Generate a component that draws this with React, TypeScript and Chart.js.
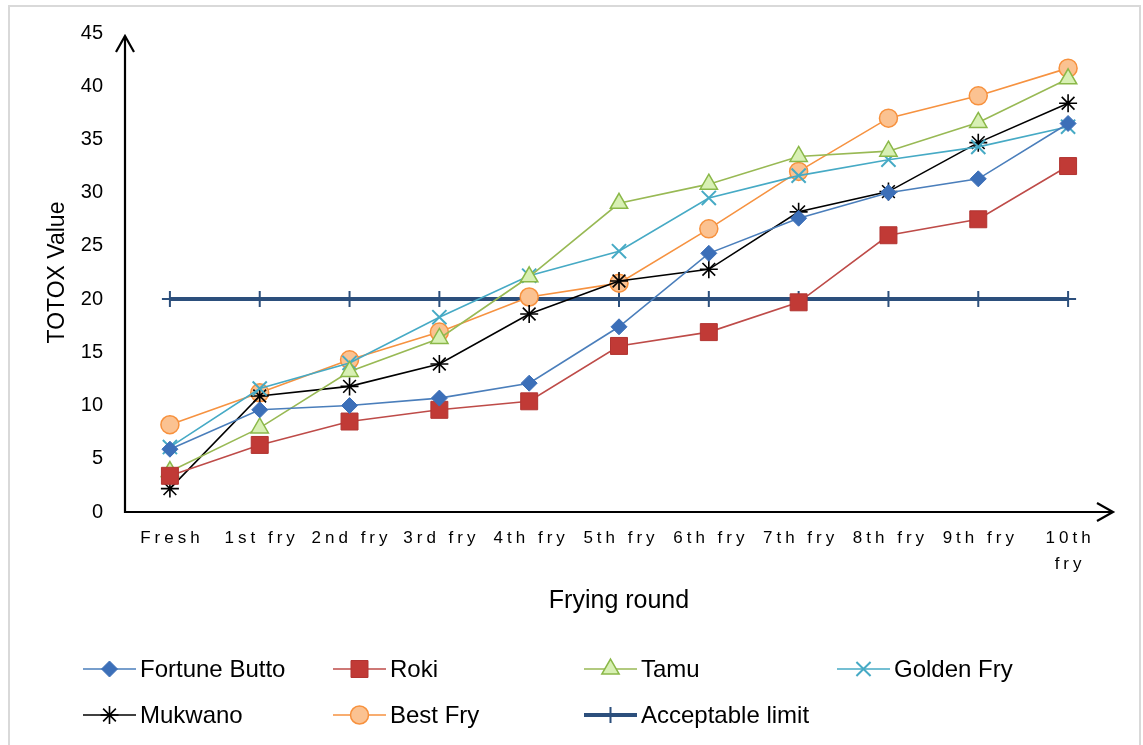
import { useEffect, useRef } from 'react';
import { Chart, registerables } from 'chart.js';
import { drawPoint } from 'chart.js/helpers';

Chart.register(...registerables);

const categories: (string | string[])[] = [
  'Fresh', '1st fry', '2nd fry', '3rd fry', '4th fry', '5th fry',
  '6th fry', '7th fry', '8th fry', '9th fry', ['10th', 'fry'],
];

const fortuneButto = [5.9, 9.6, 10.0, 10.7, 12.1, 17.4, 24.3, 27.6, 30.0, 31.3, 36.5];
const roki = [3.4, 6.3, 8.5, 9.6, 10.4, 15.6, 16.9, 19.7, 26.0, 27.5, 32.5];
const tamu = [3.8, 7.9, 13.2, 16.3, 22.1, 29.0, 30.8, 33.4, 33.9, 36.6, 40.7];
const goldenFry = [6.1, 11.6, 14.0, 18.3, 22.2, 24.5, 29.5, 31.6, 33.1, 34.3, 36.2];
const mukwano = [2.2, 10.9, 11.8, 13.9, 18.6, 21.7, 22.8, 28.2, 30.1, 34.7, 38.4];
const bestFry = [8.2, 11.2, 14.3, 16.9, 20.2, 21.5, 26.6, 32.0, 37.0, 39.1, 41.7];
const acceptableLimit = [20, 20, 20, 20, 20, 20, 20, 20, 20, 20, 20];

const yMin = 0;
const yMax = 45;
const yStep = 5;

const FONT = 'Arial, "Liberation Sans", sans-serif';

const axesPlugin = {
  id: 'arrowAxes',
  beforeDatasetsDraw(chart: any) {
    const { ctx, chartArea } = chart;
    const { left, right, bottom, top } = chartArea;
    const tipY = top + 3;
    ctx.save();
    ctx.strokeStyle = '#000';
    ctx.lineWidth = 2.2;
    ctx.lineCap = 'butt';
    ctx.beginPath();
    ctx.moveTo(left, bottom + 1);
    ctx.lineTo(left, tipY);
    ctx.moveTo(left - 1, bottom);
    ctx.lineTo(right, bottom);
    ctx.stroke();
    ctx.beginPath();
    ctx.moveTo(left - 9, tipY + 16);
    ctx.lineTo(left, tipY);
    ctx.lineTo(left + 9, tipY + 16);
    ctx.moveTo(right - 16, bottom - 9);
    ctx.lineTo(right, bottom);
    ctx.lineTo(right - 16, bottom + 9);
    ctx.stroke();
    ctx.restore();
  },
};

const letterSpacingPlugin = {
  id: 'xLetterSpacing',
  afterUpdate(chart: any) {
    const s: any = chart.scales.x;
    if (s && !s.__ls) {
      const orig = s.drawLabels.bind(s);
      s.drawLabels = (area: any) => {
        const c: any = chart.ctx;
        const prev = c.letterSpacing;
        c.letterSpacing = '4px';
        c.save();
        c.translate(2, 1);
        orig(area);
        c.restore();
        c.letterSpacing = prev;
      };
      s.__ls = true;
    }
  },
};

const legendPlugin = {
  id: 'gridLegend',
  afterDraw(chart: any) {
    const { ctx } = chart;
    const cols = [73, 323, 574, 827];
    const rows = [662, 708];
    chart.data.datasets.forEach((ds: any, i: number) => {
      const x = cols[i % 4];
      const y = rows[Math.floor(i / 4)];
      ctx.save();
      ctx.strokeStyle = ds.borderColor;
      ctx.lineWidth = ds.borderWidth;
      ctx.beginPath();
      ctx.moveTo(x, y);
      ctx.lineTo(x + 53, y);
      ctx.stroke();
      ctx.fillStyle = ds.pointBackgroundColor;
      ctx.strokeStyle = ds.pointBorderColor;
      ctx.lineWidth = ds.pointBorderWidth;
      drawPoint(ctx, {
        pointStyle: ds.pointStyle,
        radius: ds.pointRadius,
        borderWidth: ds.pointBorderWidth,
        rotation: 0,
      } as any, x + 26.5, y);
      ctx.fillStyle = '#000';
      ctx.font = `24px ${FONT}`;
      ctx.textBaseline = 'middle';
      ctx.textAlign = 'left';
      ctx.fillText(ds.label, x + 57, y + 1);
      ctx.restore();
    });
  },
};

function series(label: string, data: number[], line: string, fill: string, border: string, style: string, radius: number, pbw: number, lw = 1.6) {
  return {
    label,
    data,
    borderColor: line,
    borderWidth: lw,
    pointStyle: style,
    pointRadius: radius,
    pointHoverRadius: radius,
    pointBackgroundColor: fill,
    pointBorderColor: border,
    pointBorderWidth: pbw,
    tension: 0,
    clip: false as any,
  };
}

export default function App() {
  const ref = useRef<HTMLCanvasElement>(null);
  useEffect(() => {
    if (!ref.current) return;
    const chart = new Chart(ref.current, {
      type: 'line',
      data: {
        labels: categories as any,
        datasets: [
          series('Fortune Butto', fortuneButto, '#4a7ebb', '#3c6fb8', '#3c6fb8', 'rectRot', 8, 1),
          series('Roki', roki, '#be4b48', '#c13a36', '#b23431', 'rect', 12, 1),
          series('Tamu', tamu, '#98b954', '#d8f0b4', '#8ab848', 'triangle', 10, 1.5),
          series('Golden Fry', goldenFry, '#46aac5', '#46aac5', '#46aac5', 'crossRot', 10, 2),
          series('Mukwano', mukwano, '#000000', '#000000', '#000000', 'star', 9, 1.6),
          series('Best Fry', bestFry, '#f69240', '#fbc291', '#f7913d', 'circle', 9, 1.5),
          series('Acceptable limit', acceptableLimit, '#2c4f7c', '#2c4f7c', '#2c4f7c', 'cross', 8, 2, 4),
        ],
      },
      options: {
        responsive: false,
        animation: false,
        devicePixelRatio: 1,
        layout: { padding: { top: 26, right: 26, bottom: 123, left: 0 } },
        plugins: {
          legend: { display: false },
          tooltip: { enabled: false },
        },
        scales: {
          x: {
            type: 'category',
            offset: true,
            grid: { display: false, drawTicks: false },
            border: { display: false },
            ticks: {
              color: '#000',
              padding: 13,
              maxRotation: 0,
              minRotation: 0,
              autoSkip: false,
              font: { family: FONT, size: 17, lineHeight: 1.5 },
            },
            title: {
              display: true,
              text: 'Frying round',
              color: '#000',
              font: { family: FONT, size: 25 },
              padding: { top: 0, bottom: 6 },
            },
            afterFit: (s: any) => { s.height = 110; s.paddingLeft = 0; s.paddingRight = 0; },
          },
          y: {
            min: yMin,
            max: yMax,
            grid: { display: false, drawTicks: false },
            border: { display: false },
            ticks: {
              stepSize: yStep,
              color: '#000',
              padding: 22,
              font: { family: FONT, size: 20 },
            },
            title: {
              display: true,
              text: 'TOTOX Value',
              color: '#000',
              font: { family: FONT, size: 23 },
              padding: { top: 34, bottom: 0 },
            },
            afterFit: (s: any) => { s.width = 115; s.paddingTop = 0; s.paddingBottom = 0; },
          },
        },
      },
      plugins: [axesPlugin, letterSpacingPlugin, legendPlugin],
    });
    return () => chart.destroy();
  }, []);

  return (
    <div
      style={{
        position: 'fixed',
        left: 8,
        top: 5,
        width: 1129,
        height: 760,
        border: '2px solid #d9d9d9',
        background: '#fff',
      }}
    >
      <canvas ref={ref} width={1129} height={738} style={{ display: 'block' }} />
    </div>
  );
}
